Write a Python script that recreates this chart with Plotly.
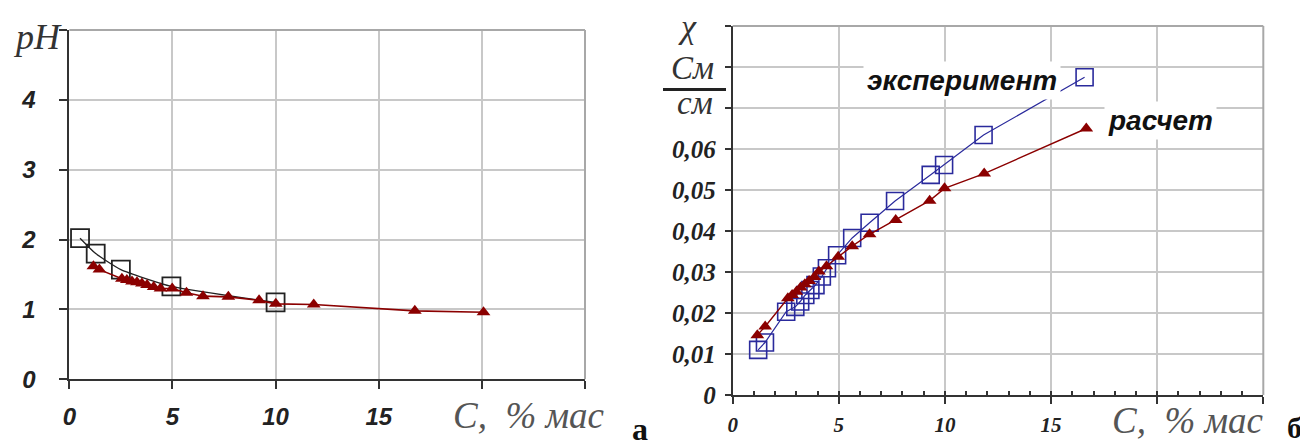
import plotly.graph_objects as go

# ---------------- data ----------------
# panel a: pH vs C, % mass
ph_exp_x = [0.52, 1.28, 2.5, 4.95, 10.0]
ph_exp_y = [2.02, 1.80, 1.57, 1.33, 1.10]
ph_calc_x = [1.17, 1.46, 2.55, 2.79, 3.04, 3.28, 3.52, 3.77, 4.09, 4.42, 4.99,
             5.68, 6.48, 7.71, 9.2, 10.01, 11.85, 16.75, 20.08]
ph_calc_y = [1.62, 1.57, 1.44, 1.42, 1.40, 1.39, 1.37, 1.35, 1.32, 1.30, 1.30,
             1.24, 1.19, 1.18, 1.13, 1.08, 1.07, 0.98, 0.96]

# panel b: conductivity vs C, % mass
ch_exp_x = [1.2, 1.52, 2.52, 2.95, 3.18, 3.42, 3.66, 3.9, 4.2, 4.44, 4.92,
            5.63, 6.45, 7.65, 9.33, 9.96, 11.82, 16.58]
ch_exp_y = [0.0110, 0.0128, 0.0203, 0.0215, 0.0228, 0.0244, 0.0256, 0.0268,
            0.0289, 0.0309, 0.0341, 0.0383, 0.0420, 0.0473, 0.0537, 0.0561,
            0.0634, 0.0775]
ch_calc_x = [1.16, 1.53, 2.6, 2.8, 3.0, 3.2, 3.4, 3.6, 3.85, 4.06, 4.42, 4.97,
             5.63, 6.45, 7.68, 9.28, 9.98, 11.85, 16.66]
ch_calc_y = [0.0146, 0.0167, 0.0236, 0.0244, 0.0252, 0.0262, 0.0270, 0.0278,
             0.0288, 0.0301, 0.0314, 0.0337, 0.0363, 0.0392, 0.0427, 0.0474,
             0.0504, 0.0540, 0.0650]

left_x_ticks = [0, 5, 10, 15, 20, 25]
left_x_text = ["0", "5", "10", "15", "", ""]
left_y_ticks = [0, 1, 2, 3, 4, 5]
left_y_text = ["0", "1", "2", "3", "4", ""]
right_x_ticks = [0, 5, 10, 15, 20, 25]
right_x_text = ["0", "5", "10", "15", "", ""]
right_x_minor = list(range(0, 26))
right_y_ticks = [0, 0.01, 0.02, 0.03, 0.04, 0.05, 0.06, 0.07, 0.08, 0.09]
right_y_text = ["0", "0,01", "0,02", "0,03", "0,04", "0,05", "0,06", "", "", ""]

W, H = 1308, 445
OFF = 8  # page body margin of the exported html
RED = "#8b0000"
BLUE = "#2a2a9c"
GRID = "#c8c8c8"
AX = "#333333"

# plot-area boxes in screen pixels (left, right, top, bottom)
BOX_A = (69.3, 585.0, 30.0, 379.3)
BOX_B = (732.7, 1263.3, 26.0, 395.0)


def px(x):
    return (x - OFF) / W


def py(y):
    return 1 - (y - OFF) / H


fig = go.Figure()

# grid carriers (empty traces on overlay axes)
fig.add_trace(go.Scatter(x=[], y=[], xaxis="x3", yaxis="y3", showlegend=False, hoverinfo="skip"))
fig.add_trace(go.Scatter(x=[], y=[], xaxis="x4", yaxis="y4", showlegend=False, hoverinfo="skip"))
fig.add_trace(go.Scatter(x=[], y=[], xaxis="x5", yaxis="y4", showlegend=False, hoverinfo="skip"))

# left panel
fig.add_trace(go.Scatter(x=ph_exp_x, y=ph_exp_y, mode="lines+markers",
                         line=dict(color="#222222", width=1.3, shape="spline", smoothing=0.5),
                         marker=dict(symbol="square-open", size=18, color="#222222",
                                     line=dict(width=1.8, color="#222222")),
                         xaxis="x", yaxis="y", showlegend=False))
fig.add_trace(go.Scatter(x=ph_calc_x, y=ph_calc_y, mode="lines+markers",
                         line=dict(color=RED, width=1.6),
                         marker=dict(symbol="triangle-up", size=12, color=RED),
                         xaxis="x", yaxis="y", showlegend=False))

# right panel
fig.add_trace(go.Scatter(x=ch_exp_x, y=ch_exp_y, mode="lines+markers",
                         line=dict(color=BLUE, width=1.2),
                         marker=dict(symbol="square-open", size=17, color=BLUE,
                                     line=dict(width=1.6, color=BLUE)),
                         xaxis="x2", yaxis="y2", showlegend=False))
fig.add_trace(go.Scatter(x=ch_calc_x, y=ch_calc_y, mode="lines+markers",
                         line=dict(color=RED, width=1.4),
                         marker=dict(symbol="triangle-up", size=12, color=RED),
                         xaxis="x2", yaxis="y2", showlegend=False))

sans_bi = dict(family="Liberation Sans", size=24, color="#222222", weight="bold", style="italic")
serif_bi_y = dict(family="Liberation Serif", size=25, color="#222222", weight="bold", style="italic")
serif_bi_x = dict(family="Liberation Serif", size=21, color="#222222", weight="bold", style="italic")

common = dict(showline=True, linecolor=AX, linewidth=2, showgrid=True,
              gridcolor=GRID, gridwidth=1.5, zeroline=False, ticks="outside",
              tickcolor=AX, tickwidth=1.5, fixedrange=True)
overlay = dict(showgrid=True, gridcolor=GRID, gridwidth=1.5, zeroline=False,
               showticklabels=False, ticks="", showline=False, fixedrange=True)

fig.update_layout(
    width=W, height=H,
    margin=dict(l=0, r=0, t=0, b=0, autoexpand=False),
    paper_bgcolor="white", plot_bgcolor="white",
    xaxis=dict(domain=[px(BOX_A[0]), px(BOX_A[1])], range=[0, 25], tickvals=left_x_ticks,
               ticktext=left_x_text, ticklen=8, tickfont=sans_bi, anchor="y",
               ticklabelstandoff=7, **common),
    yaxis=dict(domain=[py(BOX_A[3]), py(BOX_A[2])], range=[0, 5], tickvals=left_y_ticks,
               ticktext=left_y_text, ticklen=8, tickfont=sans_bi, anchor="x",
               ticklabelstandoff=19, **common),
    xaxis2=dict(domain=[px(BOX_B[0]), px(BOX_B[1])], range=[0, 25], tickvals=right_x_ticks,
                ticktext=right_x_text, ticklen=7, tickfont=serif_bi_x, anchor="y2",
                ticklabelstandoff=3, **common),
    yaxis2=dict(domain=[py(BOX_B[3]), py(BOX_B[2])], range=[0, 0.09], tickvals=right_y_ticks,
                ticktext=right_y_text, ticklen=6, tickfont=serif_bi_y, anchor="x2",
                ticklabelstandoff=4, **common),
    # overlay axes carrying the grid and the minor ticks
    xaxis3=dict(overlaying="x", anchor="y3", range=[0, 25], tickvals=left_x_ticks, **overlay),
    yaxis3=dict(overlaying="y", anchor="x3", range=[0, 5], tickvals=left_y_ticks, **overlay),
    xaxis4=dict(overlaying="x2", anchor="y4", range=[0, 25], tickvals=right_x_ticks, **overlay),
    yaxis4=dict(overlaying="y2", anchor="x4", range=[0, 0.09], tickvals=right_y_ticks, **overlay),
    xaxis5=dict(overlaying="x2", anchor="y4", range=[0, 25], tickvals=right_x_minor,
                showticklabels=False, ticks="inside", ticklen=4, tickwidth=1.5, tickcolor=AX,
                showgrid=False, zeroline=False, showline=False, fixedrange=True),
)

# gray plot borders (top/right)
for (l, r, t, b) in (BOX_A, BOX_B):
    fig.add_shape(type="line", xref="paper", yref="paper", x0=px(l), x1=px(r), y0=py(t), y1=py(t),
                  line=dict(color="#a8a8a8", width=2))
    fig.add_shape(type="line", xref="paper", yref="paper", x0=px(r), x1=px(r), y0=py(t), y1=py(b),
                  line=dict(color="#a8a8a8", width=2))

# fraction bar of the conductivity unit
fig.add_shape(type="line", xref="paper", yref="paper", x0=px(663), x1=px(726),
              y0=py(89.5), y1=py(89.5), line=dict(color="#222222", width=3))

serif_i = dict(family="Liberation Serif", style="italic", color="#333333")

ann = [
    dict(text="pH", x=px(37), y=py(37), font=dict(size=36, **serif_i)),
    dict(text="C,\u00a0\u00a0% мас", x=px(529), y=py(415), font=dict(size=37, family="Liberation Serif", style="italic", color="#555555")),
    dict(text="C,\u00a0\u00a0% мас", x=px(1188), y=py(420), font=dict(size=37, family="Liberation Serif", style="italic", color="#555555")),
    dict(text="а", x=px(640), y=py(429), font=dict(size=32, family="Liberation Serif", weight="bold", color="#111111")),
    dict(text="б", x=px(1294), y=py(427), font=dict(size=30, family="Liberation Serif", weight="bold", color="#111111")),
    dict(text="χ", x=px(688), y=py(26), font=dict(size=34, **serif_i)),
    dict(text="См", x=px(692), y=py(68), font=dict(size=33, **serif_i)),
    dict(text="см", x=px(695), y=py(103), font=dict(size=33, **serif_i)),
    dict(text="эксперимент", x=px(962), y=py(80), bgcolor="white", borderpad=3,
         font=dict(size=28, family="Liberation Sans", weight="bold", style="italic", color="#111111")),
    dict(text="расчет", x=px(1160), y=py(120), bgcolor="white", borderpad=3,
         font=dict(size=28, family="Liberation Sans", weight="bold", style="italic", color="#111111")),
]
for a in ann:
    fig.add_annotation(xref="paper", yref="paper", showarrow=False,
                       xanchor="center", yanchor="middle", **a)

fig.write_html("out.html")
